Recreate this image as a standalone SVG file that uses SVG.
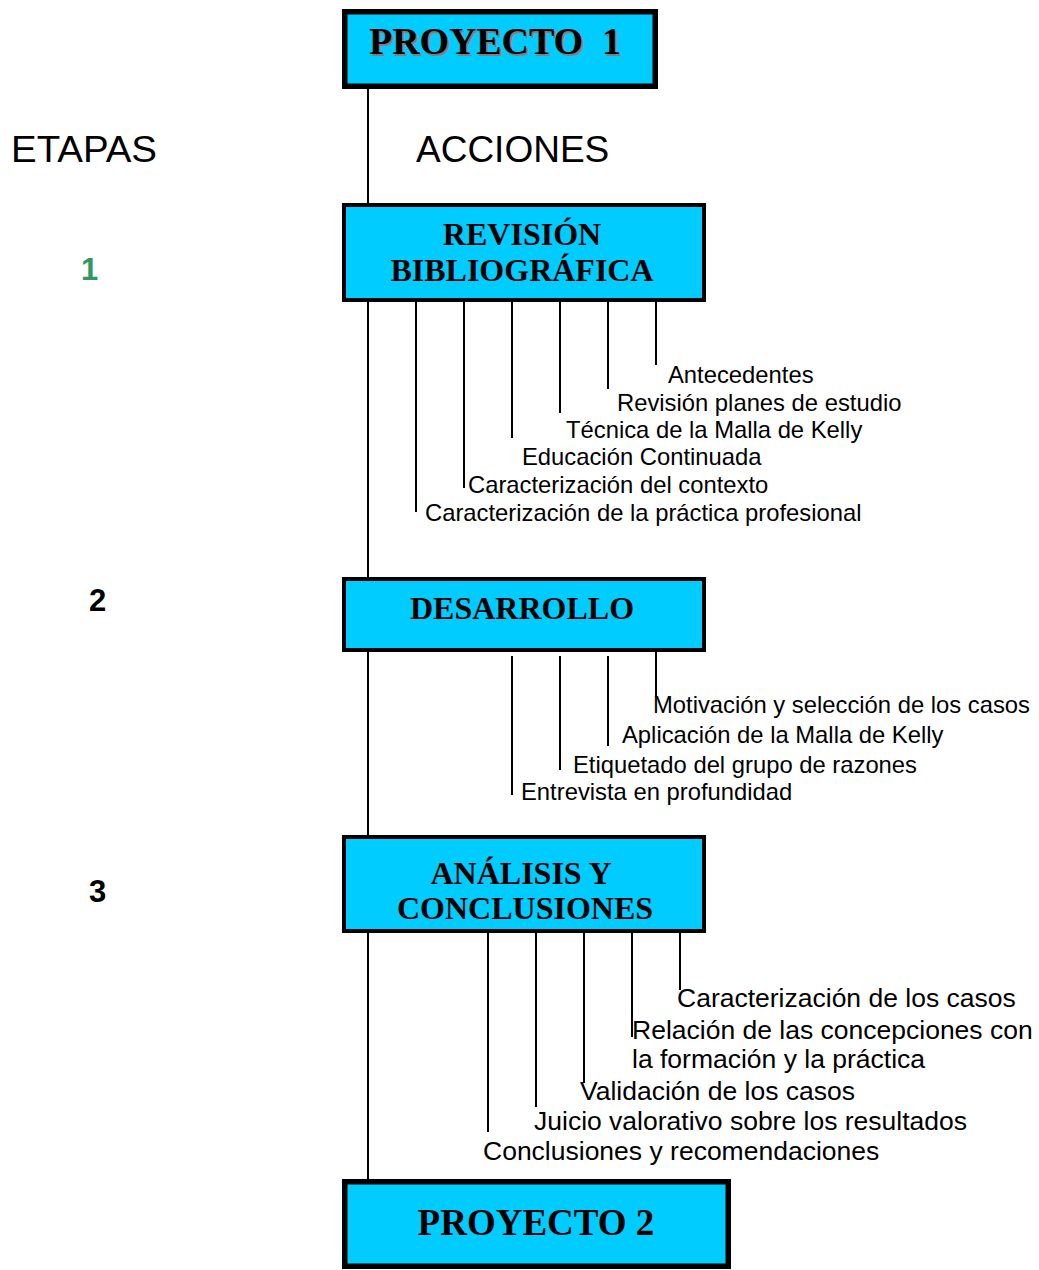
<svg xmlns="http://www.w3.org/2000/svg" width="1039" height="1270" viewBox="0 0 1039 1270">
<style>
.box{fill:#00CCFF;stroke:#000;stroke-width:4}
.thick{stroke-width:5.5}
.ttl{font-family:"Liberation Serif","Times New Roman",serif;font-weight:bold;font-size:32px;fill:#000;text-anchor:middle}
.p1{font-family:"Liberation Serif","Times New Roman",serif;font-weight:bold;font-size:38px}
.lbl{font-family:"Liberation Sans",Arial,sans-serif;font-size:23.8px;fill:#000}
.lbl2{font-family:"Liberation Sans",Arial,sans-serif;font-size:26.5px;fill:#000}
.hdr{font-family:"Liberation Sans",Arial,sans-serif;font-size:37px;fill:#000}
.num{font-family:"Liberation Sans",Arial,sans-serif;font-size:31px;font-weight:bold;text-anchor:middle}
.ln{stroke:#000;stroke-width:2;fill:none}
</style>
<rect width="1039" height="1270" fill="#fff"/>
<g id="connectors">
<line class="ln" x1="368" y1="88" x2="368" y2="1181"/>
<line class="ln" x1="416" y1="302" x2="416" y2="512"/>
<line class="ln" x1="464" y1="302" x2="464" y2="488"/>
<line class="ln" x1="512" y1="302" x2="512" y2="438"/>
<line class="ln" x1="560" y1="302" x2="560" y2="413"/>
<line class="ln" x1="608" y1="302" x2="608" y2="389"/>
<line class="ln" x1="656" y1="302" x2="656" y2="365"/>
<line class="ln" x1="656" y1="650" x2="656" y2="697"/>
<line class="ln" x1="608" y1="656" x2="608" y2="746"/>
<line class="ln" x1="560" y1="656" x2="560" y2="770"/>
<line class="ln" x1="512" y1="656" x2="512" y2="795"/>
<line class="ln" x1="680" y1="931" x2="680" y2="990"/>
<line class="ln" x1="632" y1="931" x2="632" y2="1037"/>
<line class="ln" x1="584" y1="931" x2="584" y2="1083"/>
<line class="ln" x1="536" y1="931" x2="536" y2="1107"/>
<line class="ln" x1="488" y1="931" x2="488" y2="1132"/>
</g>
<g id="headers">
<text class="hdr" x="11" y="162" textLength="146" lengthAdjust="spacingAndGlyphs">ETAPAS</text>
<text class="hdr" x="416" y="162">ACCIONES</text>
<text class="num" x="89.5" y="280" fill="#2E9960">1</text>
<text class="num" x="97.5" y="611" fill="#000">2</text>
<text class="num" x="97.5" y="902" fill="#000">3</text>
</g>
<g id="proyecto1">
<rect class="box thick" x="344.75" y="11.75" width="310.5" height="74.5"/>
<text class="p1" x="371" y="56" fill="#808080" textLength="214" lengthAdjust="spacingAndGlyphs">PROYECTO</text>
<text class="p1" x="604" y="56" fill="#808080">1</text>
<text class="p1" x="369" y="54" fill="#000" textLength="214" lengthAdjust="spacingAndGlyphs">PROYECTO</text>
<text class="p1" x="602" y="54" fill="#000">1</text>
</g>
<g id="revision">
<rect class="box" x="344" y="205" width="360" height="95"/>
<text class="ttl" x="522" y="245">REVISIÓN</text>
<text class="ttl" x="522" y="281">BIBLIOGRÁFICA</text>
</g>
<g id="revision-acciones">
<text class="lbl" x="668" y="383">Antecedentes</text>
<text class="lbl" x="617" y="410.5">Revisión planes de estudio</text>
<text class="lbl" x="566" y="438">Técnica de la Malla de Kelly</text>
<text class="lbl" x="522" y="465">Educación Continuada</text>
<text class="lbl" x="468" y="493">Caracterización del contexto</text>
<text class="lbl" x="425" y="520.5">Caracterización de la práctica profesional</text>
</g>
<g id="desarrollo">
<rect class="box" x="344" y="579" width="360" height="71"/>
<text class="ttl" x="522" y="619">DESARROLLO</text>
</g>
<g id="desarrollo-acciones">
<text class="lbl" x="653" y="713">Motivación y selección de los casos</text>
<text class="lbl" x="622" y="743">Aplicación de la Malla de Kelly</text>
<text class="lbl" x="573" y="773">Etiquetado del grupo de razones</text>
<text class="lbl" x="521" y="800">Entrevista en profundidad</text>
</g>
<g id="analisis">
<rect class="box" x="344" y="837" width="360" height="94"/>
<text class="ttl" x="521" y="884">ANÁLISIS Y</text>
<text class="ttl" x="525" y="919">CONCLUSIONES</text>
</g>
<g id="analisis-acciones">
<text class="lbl2" x="677" y="1007">Caracterización de los casos</text>
<text class="lbl2" x="632" y="1039">Relación de las concepciones con</text>
<text class="lbl2" x="632" y="1068">la formación y la práctica</text>
<text class="lbl2" x="580" y="1100">Validación de los casos</text>
<text class="lbl2" x="534" y="1130">Juicio valorativo sobre los resultados</text>
<text class="lbl2" x="483" y="1160">Conclusiones y recomendaciones</text>
</g>
<g id="proyecto2">
<rect class="box thick" x="344.75" y="1181.75" width="383.5" height="84.5"/>
<text class="ttl" x="536" y="1235" style="font-size:37px">PROYECTO 2</text>
</g>
</svg>
